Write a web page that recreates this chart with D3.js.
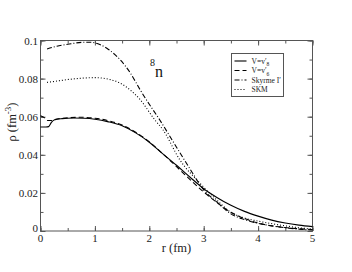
<!DOCTYPE html>
<html>
<head>
<meta charset="utf-8">
<script src="https://cdn.jsdelivr.net/npm/d3@7"></script>
<style>
  body { margin: 0; background: #fff; }
  text { font-family: "Liberation Serif", "Times New Roman", serif; }
</style>
</head>
<body>
<div id="chart"></div>
<script>
// r (fm) and density values
var solidR   = [0, 0.1, 0.15, 0.2, 0.26, 0.4, 0.6, 0.8, 1.0, 1.25, 1.5, 1.75, 2.0, 2.2, 2.5, 2.75, 3.0, 3.25, 3.5, 3.75, 4.0, 4.25, 4.5, 4.75, 5.0];
var solidRho = [0.0546, 0.0546, 0.0548, 0.057, 0.0584, 0.059, 0.0593, 0.0592, 0.0587, 0.0573, 0.0552, 0.0515, 0.0466, 0.0417, 0.0345, 0.0282, 0.0222, 0.0175, 0.0135, 0.0103, 0.0078, 0.0057, 0.0042, 0.0031, 0.0023];

var dashR   = [0, 0.07, 0.13, 0.2, 0.3, 0.5, 0.75, 1.0, 1.25, 1.5, 1.75, 2.0, 2.25, 2.5, 2.75, 3.0, 3.25, 3.5, 3.75, 4.0, 4.5, 5.0];
var dashRho = [0.0605, 0.0595, 0.058, 0.058, 0.0588, 0.0594, 0.0597, 0.0592, 0.0579, 0.0556, 0.0518, 0.0468, 0.0405, 0.0338, 0.027, 0.0205, 0.0148, 0.0098, 0.0065, 0.0042, 0.0018, 0.0008];

var skyR   = [0.12, 0.3, 0.5, 0.75, 0.9, 1.09, 1.25, 1.46, 1.65, 1.83, 2.0, 2.19, 2.38, 2.5, 2.75, 3.0, 3.25, 3.5, 3.75, 4.0, 4.25, 4.5, 4.75, 5.0];
var skyRho = [0.0955, 0.097, 0.098, 0.099, 0.0991, 0.0979, 0.0953, 0.09, 0.083, 0.0742, 0.0665, 0.0584, 0.0496, 0.044, 0.0325, 0.0216, 0.015, 0.009, 0.006, 0.004, 0.0027, 0.0017, 0.001, 0.0005];

var skmR   = [0.12, 0.3, 0.5, 0.75, 1.0, 1.25, 1.46, 1.65, 1.83, 2.1, 2.25, 2.56, 2.93, 3.25, 3.48, 3.75, 4.0, 4.22, 4.5, 4.75, 5.0];
var skmRho = [0.078, 0.0787, 0.0795, 0.0802, 0.0805, 0.0797, 0.0777, 0.074, 0.069, 0.0584, 0.0532, 0.0374, 0.0251, 0.016, 0.0102, 0.0068, 0.0052, 0.004, 0.0027, 0.0017, 0.001];

var xTicks = [0, 1, 2, 3, 4, 5];
var yTicks = [0, 0.02, 0.04, 0.06, 0.08, 0.1];
var yTickLabels = ["0", "0.02", "0.04", "0.06", "0.08", "0.1"];

var series = [
  { r: solidR, rho: solidRho, dash: null, label: "V=v′", sub: "8" },
  { r: dashR, rho: dashRho, dash: "5,3", label: "V=v′", sub: "6" },
  { r: skyR, rho: skyRho, dash: "5,2,1,2", label: "Skyrme I′", sub: null },
  { r: skmR, rho: skmRho, dash: "1,2", label: "SKM", sub: null }
];

var W = 352, H = 272;
var m = { left: 40.5, right: 39.5, top: 40.5, bottom: 41 };
var svg = d3.select("#chart").append("svg").attr("width", W).attr("height", H);
var x = d3.scaleLinear().domain([0, 5]).range([m.left, W - m.right]);
var y = d3.scaleLinear().domain([0, 0.1]).range([H - m.bottom, m.top]);

var axisCol = "#555";
var minorX = d3.range(0, 5.01, 0.5), minorY = d3.range(0, 0.1001, 0.01);

// ticks on all four sides, pointing inward
function ticks(axisFn, scale, vals, len, tr) {
  svg.append("g").attr("transform", tr)
    .call(axisFn(scale).tickValues(vals).tickSize(len).tickFormat(""))
    .call(function (g) {
      g.select(".domain").remove();
      g.selectAll("line").attr("stroke", axisCol);
    });
}
var b = H - m.bottom, t = m.top, l = m.left, r = W - m.right;
ticks(d3.axisTop, x, minorX, 3, "translate(0," + b + ")");
ticks(d3.axisTop, x, xTicks, 5, "translate(0," + b + ")");
ticks(d3.axisBottom, x, minorX, 3, "translate(0," + t + ")");
ticks(d3.axisBottom, x, xTicks, 5, "translate(0," + t + ")");
ticks(d3.axisRight, y, minorY, 3, "translate(" + l + ",0)");
ticks(d3.axisRight, y, yTicks, 5, "translate(" + l + ",0)");
ticks(d3.axisLeft, y, minorY, 3, "translate(" + r + ",0)");
ticks(d3.axisLeft, y, yTicks, 5, "translate(" + r + ",0)");

svg.append("rect").attr("x", l).attr("y", t).attr("width", r - l).attr("height", b - t)
  .attr("fill", "none").attr("stroke", axisCol).attr("stroke-width", 1);

// tick labels
svg.selectAll(".xl").data(xTicks).enter().append("text")
  .attr("x", function (d) { return x(d); }).attr("y", b + 11)
  .attr("text-anchor", "middle").attr("font-size", 11).attr("fill", "#222")
  .text(function (d) { return d; });
svg.selectAll(".yl").data(yTicks).enter().append("text")
  .attr("x", l - 2.5).attr("y", function (d, i) { return y(d) + (i === 0 ? 1 : 4); })
  .attr("text-anchor", "end").attr("font-size", 11).attr("fill", "#222")
  .text(function (d, i) { return yTickLabels[i]; });

// axis titles
svg.append("text").attr("x", (l + r) / 2).attr("y", 252).attr("text-anchor", "middle")
  .attr("font-size", 12.5).attr("fill", "#222").text("r (fm)");
var yt = svg.append("text").attr("transform", "translate(16," + 122 + ") rotate(-90)")
  .attr("text-anchor", "middle").attr("font-size", 12.5).attr("fill", "#222");
yt.append("tspan").text("ρ  (fm");
yt.append("tspan").attr("dy", -5).attr("font-size", 9).text("-3");
yt.append("tspan").attr("dy", 5).text(")");

// curves
var line = d3.line().curve(d3.curveMonotoneX)
  .x(function (d) { return x(d[0]); }).y(function (d) { return y(d[1]); });
series.forEach(function (s) {
  var pts = s.r.map(function (v, i) { return [v, s.rho[i]]; });
  svg.append("path").attr("d", line(pts)).attr("fill", "none")
    .attr("stroke", "#000").attr("stroke-width", 1.1)
    .attr("stroke-dasharray", s.dash);
});

// nucleus label
svg.append("text").attr("x", 150).attr("y", 66).attr("font-size", 10).attr("fill", "#111").text("8");
svg.append("text").attr("x", 155).attr("y", 77).attr("font-size", 16).attr("fill", "#111").text("n");

// legend
var lg = svg.append("g").attr("transform", "translate(231.5,53.5)");
lg.append("rect").attr("width", 52).attr("height", 43).attr("fill", "#fff")
  .attr("stroke", axisCol).attr("stroke-width", 1);
series.forEach(function (s, i) {
  var yy = 7.5 + i * 9.5;
  lg.append("line").attr("x1", 3).attr("x2", 15).attr("y1", yy).attr("y2", yy)
    .attr("stroke", "#000").attr("stroke-width", 1.1).attr("stroke-dasharray", s.dash);
  var tx = lg.append("text").attr("x", 20).attr("y", yy + 2.5).attr("font-size", 7.5).attr("fill", "#222");
  tx.append("tspan").text(s.label);
  if (s.sub) tx.append("tspan").attr("dy", 2.5).attr("font-size", 5.5).text(s.sub);
});
</script>
</body>
</html>
